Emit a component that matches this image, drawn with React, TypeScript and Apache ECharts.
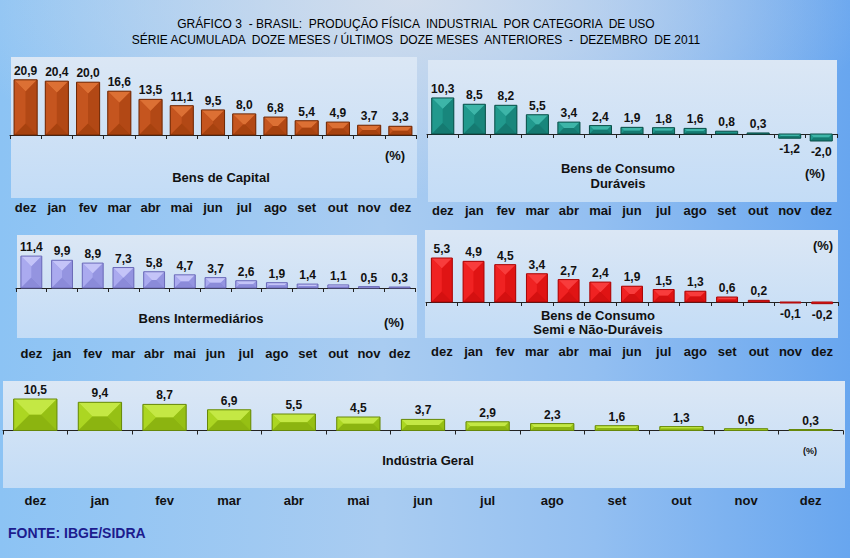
import { useEffect, useRef } from 'react';
import * as echarts from 'echarts';

const months = ['dez', 'jan', 'fev', 'mar', 'abr', 'mai', 'jun', 'jul', 'ago', 'set', 'out', 'nov', 'dez'];
const bensCapital = [20.9, 20.4, 20.0, 16.6, 13.5, 11.1, 9.5, 8.0, 6.8, 5.4, 4.9, 3.7, 3.3];
const bensDuraveis = [10.3, 8.5, 8.2, 5.5, 3.4, 2.4, 1.9, 1.8, 1.6, 0.8, 0.3, -1.2, -2.0];
const bensIntermediarios = [11.4, 9.9, 8.9, 7.3, 5.8, 4.7, 3.7, 2.6, 1.9, 1.4, 1.1, 0.5, 0.3];
const bensSemiNaoDuraveis = [5.3, 4.9, 4.5, 3.4, 2.7, 2.4, 1.9, 1.5, 1.3, 0.6, 0.2, -0.1, -0.2];
const industriaGeral = [10.5, 9.4, 8.7, 6.9, 5.5, 4.5, 3.7, 2.9, 2.3, 1.6, 1.3, 0.6, 0.3];

const titleLine1 = 'GRÁFICO 3  - BRASIL:  PRODUÇÃO FÍSICA  INDUSTRIAL  POR CATEGORIA  DE USO';
const titleLine2 = 'SÉRIE ACUMULADA  DOZE MESES / ÚLTIMOS  DOZE MESES  ANTERIORES  -  DEZEMBRO  DE 2011';
const sourceText = 'FONTE: IBGE/SIDRA';

type Pal = { main: string; light: string; left: string; right: string; bottom: string; edge: string };

const FONT = '"Liberation Sans", Arial, sans-serif';

const panels = [
  {
    values: bensCapital,
    grid: { left: 10, width: 406, top: 69, height: 66 }, min: 0, max: 25, ratio: 0.74, labelMargin: 66,
    pal: { main: '#bf4e1a', light: '#dc7034', left: '#c5551f', right: '#b24815', bottom: '#a7420f', edge: '#6e2806' },
    rect: [11, 57, 406, 141],
  },
  {
    values: bensDuraveis,
    grid: { left: 427, width: 410, top: 92, height: 52.5 }, min: -3, max: 12, ratio: 0.7, labelMargin: 59,
    pal: { main: '#1d9388', light: '#3db5a8', left: '#21998d', right: '#18867c', bottom: '#157a71', edge: '#0b4f49' },
    rect: [428, 60, 409, 142],
  },
  {
    values: bensIntermediarios,
    grid: { left: 16, width: 399, top: 251.6, height: 36.4 }, min: 0, max: 13, ratio: 0.68, labelMargin: 58.5,
    pal: { main: '#a3a3ec', light: '#c4c4f8', left: '#aaaaef', right: '#9494e0', bottom: '#8b8bd9', edge: '#6a6ab8' },
    rect: [17, 235, 400, 103],
  },
  {
    values: bensSemiNaoDuraveis,
    grid: { left: 426, width: 412, top: 252.2, height: 58.1 }, min: -1, max: 6, ratio: 0.66, labelMargin: 35,
    pal: { main: '#ee1b1b', light: '#f83c3c', left: '#f02222', right: '#e01414', bottom: '#d41010', edge: '#a80606' },
    rect: [425, 230, 413, 108],
  },
  {
    values: industriaGeral,
    grid: { left: 3, width: 840, top: 394.5, height: 36 }, min: 0, max: 12, ratio: 0.67, labelMargin: 63,
    pal: { main: '#a4d01c', light: '#c4e844', left: '#acd622', right: '#96c014', bottom: '#8cb410', edge: '#66880a' },
    rect: [3, 381, 842, 107],
  },
];

const fmt = (v: number) => v.toFixed(1).replace('.', ',');

function makeRender(pal: Pal, ratio: number) {
  return (params: any, api: any) => {
    const i = api.value(0) as number;
    const v = api.value(1) as number;
    const p = api.coord([i, v]);
    const z0 = api.coord([i, 0]);
    const cw = api.size([1, 0])[0];
    const bw = cw * ratio;
    const x0 = p[0] - bw / 2;
    const x1 = p[0] + bw / 2;
    let yA = Math.min(p[1], z0[1]);
    let yB = Math.max(p[1], z0[1]);
    if (yB - yA < 1) {
      if (v >= 0) yA = yB - 1;
      else yB = yA + 1;
    }
    const h = yB - yA;
    const b = Math.min(bw / 2, h / 2);
    const children: any[] = [];
    children.push({ type: 'rect', shape: { x: x0, y: yA, width: bw, height: h }, style: { fill: pal.main } });
    if (h > 3) {
      children.push({ type: 'polygon', shape: { points: [[x0, yA], [x1, yA], [x1 - b, yA + b], [x0 + b, yA + b]] }, style: { fill: pal.light } });
      children.push({ type: 'polygon', shape: { points: [[x0, yA], [x0 + b, yA + b], [x0 + b, yB - b], [x0, yB]] }, style: { fill: pal.left } });
      children.push({ type: 'polygon', shape: { points: [[x1, yA], [x1 - b, yA + b], [x1 - b, yB - b], [x1, yB]] }, style: { fill: pal.right } });
      children.push({ type: 'polygon', shape: { points: [[x0, yB], [x1, yB], [x1 - b, yB - b], [x0 + b, yB - b]] }, style: { fill: pal.bottom } });
    }
    children.push({ type: 'rect', shape: { x: x0, y: yA, width: bw, height: h }, style: { fill: 'none', stroke: pal.edge, lineWidth: 1 } });
    children.push({
      type: 'text',
      style: {
        text: fmt(v),
        x: p[0],
        y: v >= 0 ? yA - 3 : yB + 5,
        align: 'center',
        verticalAlign: v >= 0 ? 'bottom' : 'top',
        font: `bold 12px ${FONT}`,
        fill: '#111',
      },
    });
    return { type: 'group', children };
  };
}

function txt(text: string, x: number, y: number, size = 13, align = 'center', color = '#111', weight = 'bold') {
  return {
    type: 'text',
    z: 5,
    style: { text, x, y, align, verticalAlign: 'middle', font: `${weight} ${size}px ${FONT}`, fill: color },
  };
}

export default function App() {
  const ref = useRef<HTMLDivElement>(null);
  useEffect(() => {
    if (!ref.current) return;
    const chart = echarts.init(ref.current, null, { renderer: 'svg' });
    const grids: any[] = [];
    const xAxes: any[] = [];
    const yAxes: any[] = [];
    const series: any[] = [];
    const graphics: any[] = [];
    panels.forEach((pn, k) => {
      grids.push({ ...pn.grid, containLabel: false });
      xAxes.push({
        type: 'category', gridIndex: k, data: months, position: 'bottom',
        axisLine: { show: true, onZero: true, lineStyle: { color: '#222', width: 1 } },
        axisTick: { show: true, length: 4, lineStyle: { color: '#222' } },
        axisLabel: { show: false }, splitLine: { show: false }, z: 3,
      });
      xAxes.push({
        type: 'category', gridIndex: k, data: months, position: 'bottom',
        axisLine: { show: false, onZero: false }, axisTick: { show: false },
        axisLabel: { show: true, interval: 0, margin: pn.labelMargin, fontSize: 13, fontWeight: 'bold', color: '#111', fontFamily: FONT },
        splitLine: { show: false },
      });
      yAxes.push({ type: 'value', gridIndex: k, min: pn.min, max: pn.max, show: false, splitLine: { show: false } });
      series.push({
        type: 'custom', xAxisIndex: 2 * k, yAxisIndex: k, clip: false, z: 4,
        encode: { x: 0, y: 1 },
        data: pn.values.map((v, i) => [i, v]),
        renderItem: makeRender(pn.pal, pn.ratio),
      });
      const [rx, ry, rw, rh] = pn.rect;
      graphics.push({
        type: 'rect', z: -1, shape: { x: rx, y: ry, width: rw, height: rh },
        style: {
          fill: new echarts.graphic.LinearGradient(0, 0, 0, 1, [
            { offset: 0, color: '#dbe7f5' },
            { offset: 1, color: '#c3dcf6' },
          ]),
        },
      });
    });
    graphics.push(
      txt(titleLine1, 416, 24, 12, 'center', '#000', 'normal'),
      txt(titleLine2, 416, 40, 12, 'center', '#000', 'normal'),
      txt('Bens de Capital', 221, 177),
      txt('(%)', 395, 155),
      txt('Bens de Consumo', 618, 168),
      txt('Duráveis', 618, 183),
      txt('(%)', 815, 173),
      txt('Bens Intermediários', 201, 318),
      txt('(%)', 394, 322),
      txt('Bens de Consumo', 598, 315),
      txt('Semi e Não-Duráveis', 598, 329),
      txt('(%)', 823, 245),
      txt('Indústria Geral', 428, 460),
      txt('(%)', 810, 451, 9),
      txt(sourceText, 8, 533, 14, 'left', '#1c1c8e'),
    );
    chart.setOption({
      animation: false,
      backgroundColor: 'transparent',
      grid: grids,
      xAxis: xAxes,
      yAxis: yAxes,
      series,
      graphic: { elements: graphics },
    });
    return () => chart.dispose();
  }, []);
  return (
    <div
      ref={ref}
      style={{
        position: 'fixed', left: 0, top: 0, width: 850, height: 558,
        background:
          'radial-gradient(ellipse 55% 35% at 48% 0%, rgba(212,222,236,0.95), rgba(212,222,236,0)), linear-gradient(90deg, #8cc3f4 0%, #a9ccf1 45%, #93bff1 70%, #68a6ef 100%)',
      }}
    />
  );
}
